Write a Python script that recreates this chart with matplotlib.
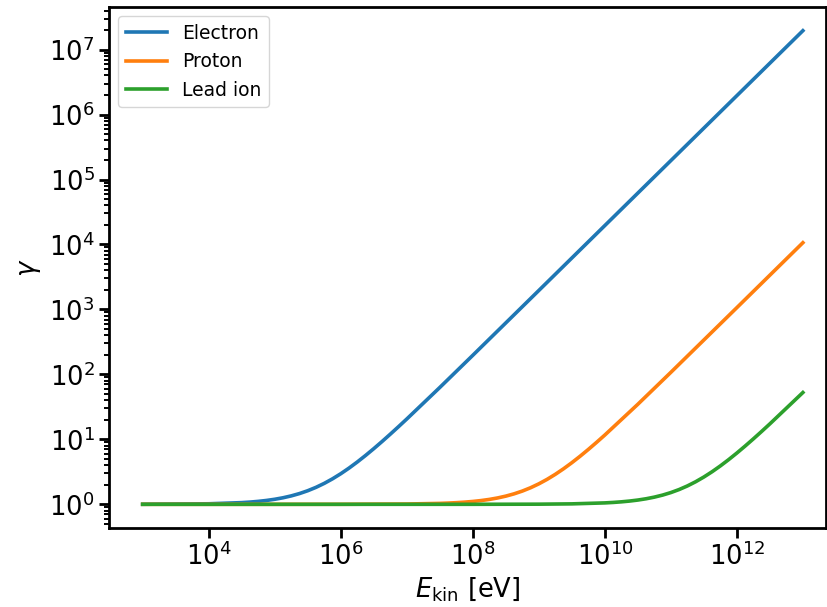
import matplotlib
matplotlib.use('Agg')
import matplotlib.pyplot as plt
from matplotlib.ticker import NullLocator, LogLocator

# log10 of kinetic energy [eV] and read-off Lorentz factors, denser around each knee
logE_electron = [3.0, 4.0, 4.5, 4.625, 4.75, 4.875, 5.0, 5.125, 5.25, 5.375, 5.5,
                 5.625, 5.75, 5.875, 6.0, 6.125, 6.25, 6.375, 6.5, 6.625, 6.75,
                 6.875, 7.0, 7.5, 8.0, 9.0, 10.0, 11.0, 12.0, 13.0]
gamma_electron = [1.00196, 1.0196, 1.0619, 1.0825, 1.1100, 1.1467, 1.1957, 1.2610,
                  1.3480, 1.4641, 1.6188, 1.8252, 2.1005, 2.4675, 2.9569, 3.6096,
                  4.4800, 5.6406, 7.1884, 9.2524, 12.005, 15.675, 20.569, 62.88,
                  196.7, 1958, 19570, 195695, 1956950, 19569500]

logE_proton = [3.0, 5.0, 6.0, 7.0, 7.5, 7.625, 7.75, 7.875, 8.0, 8.125, 8.25, 8.375,
               8.5, 8.625, 8.75, 8.875, 9.0, 9.125, 9.25, 9.375, 9.5, 9.625, 9.75,
               9.875, 10.0, 10.5, 11.0, 12.0, 13.0]
gamma_proton = [1.000001, 1.0001, 1.0011, 1.0107, 1.0337, 1.0449, 1.0599, 1.0799,
                1.1066, 1.1421, 1.1895, 1.2527, 1.3370, 1.4494, 1.5993, 1.7992,
                2.0658, 2.4213, 2.8953, 3.5274, 4.3703, 5.4944, 6.9934, 8.9923,
                11.658, 34.70, 107.58, 1066.8, 10659]

logE_lead = [3.0, 8.0, 9.0, 9.5, 10.0, 10.125, 10.25, 10.375, 10.5, 10.625, 10.75,
             10.875, 11.0, 11.125, 11.25, 11.375, 11.5, 11.625, 11.75, 11.875,
             12.0, 12.125, 12.25, 12.375, 12.5, 13.0]
gamma_lead = [1.0, 1.0005, 1.0052, 1.0163, 1.0516, 1.0688, 1.0918, 1.1224, 1.1633,
              1.2177, 1.2903, 1.3871, 1.5163, 1.6884, 1.9181, 2.2242, 2.6326,
              3.1771, 3.9032, 4.8714, 6.1626, 7.8845, 10.181, 13.2425, 17.326,
              52.63]

labels = ['Electron', 'Proton', 'Lead ion']
xtick_exps = [4, 6, 8, 10, 12]
ytick_exps = [0, 1, 2, 3, 4, 5, 6, 7]

plt.rcParams['axes.linewidth'] = 2.0
plt.rcParams['xtick.major.width'] = 2.0
plt.rcParams['ytick.major.width'] = 2.0
plt.rcParams['xtick.minor.width'] = 1.4
plt.rcParams['ytick.minor.width'] = 1.4
plt.rcParams['xtick.major.size'] = 7
plt.rcParams['ytick.major.size'] = 7
plt.rcParams['xtick.minor.size'] = 3.5
plt.rcParams['ytick.minor.size'] = 3.5

fig = plt.figure(figsize=(8.28, 6.07), dpi=100)
ax = fig.add_axes([109 / 828, 1 - 528 / 607, (826 - 109) / 828, (528 - 7) / 607])

series = [(logE_electron, gamma_electron), (logE_proton, gamma_proton),
          (logE_lead, gamma_lead)]
for (logE, g), name in zip(series, labels):
    ax.plot([10 ** e for e in logE], g, lw=2.6, label=name)

ax.set_xscale('log')
ax.set_yscale('log')
ax.set_xlim(10 ** 2.49, 10 ** 13.35)
ax.set_xticks([10.0 ** e for e in xtick_exps],
              [r'$10^{%d}$' % e for e in xtick_exps])
ax.xaxis.set_minor_locator(NullLocator())
ax.set_yticks([10.0 ** e for e in ytick_exps],
              [r'$10^{%d}$' % e for e in ytick_exps])
ax.yaxis.set_minor_locator(LogLocator(base=10, subs=range(2, 10), numticks=20))
ax.yaxis.set_minor_formatter(matplotlib.ticker.NullFormatter())
ax.set_xlabel(r'$E_\mathrm{kin}$ [eV]', fontsize=18.5, labelpad=3)
ax.set_ylabel(r'$\gamma$', fontsize=18.5)
ax.tick_params(labelsize=18.5)
ax.legend(loc='upper left', fontsize=13.5, handlelength=2.2)

fig.savefig('out.png', dpi=100)
